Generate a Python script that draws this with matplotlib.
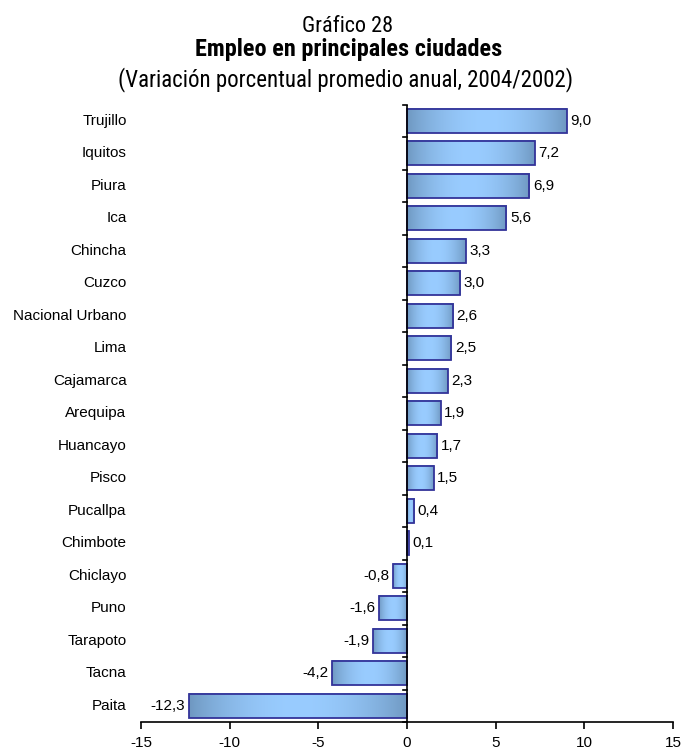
import numpy as np
import matplotlib
matplotlib.use("Agg")
import matplotlib.pyplot as plt

ciudades = ["Trujillo", "Iquitos", "Piura", "Ica", "Chincha", "Cuzco", "Nacional Urbano",
            "Lima", "Cajamarca", "Arequipa", "Huancayo", "Pisco", "Pucallpa", "Chimbote",
            "Chiclayo", "Puno", "Tarapoto", "Tacna", "Paita"]
variacion = [9.0, 7.2, 6.9, 5.6, 3.3, 3.0, 2.6, 2.5, 2.3, 1.9, 1.7, 1.5, 0.4, 0.1,
             -0.8, -1.6, -1.9, -4.2, -12.3]
xticks = [-15, -10, -5, 0, 5, 10, 15]

plt.rcParams["font.family"] = ["Liberation Sans", "DejaVu Sans"]
narrow = ["Roboto Condensed", "Liberation Sans", "DejaVu Sans"]

fig = plt.figure(figsize=(6.84, 7.53), dpi=100)
ax = fig.add_axes([0.206, 0.041, 0.778, 0.820])

# gradiente: oscuro en los extremos, claro al centro
dark = np.array([0.43, 0.59, 0.75])
light = np.array([0.60, 0.80, 1.00])
t = np.linspace(0, 1, 256)
w = np.sin(np.pi * t) ** 0.8
grad = dark[None, :] * (1 - w[:, None]) + light[None, :] * w[:, None]
grad = grad[None, :, :]

n = len(ciudades)
ypos = np.arange(n)[::-1]
h = 0.74
for y, v in zip(ypos, variacion):
    x0, x1 = min(0, v), max(0, v)
    ax.imshow(grad, extent=(x0, x1, y - h / 2, y + h / 2), aspect="auto",
              interpolation="bilinear", zorder=2)
ax.barh(ypos, variacion, height=h, facecolor="none", edgecolor="#333399",
        linewidth=1.3, zorder=3)

for y, v in zip(ypos, variacion):
    lbl = f"{v:.1f}".replace(".", ",")
    if v >= 0:
        ax.text(v + 0.2, y, lbl, ha="left", va="center", fontsize=11)
    else:
        ax.text(v - 0.2, y, lbl, ha="right", va="center", fontsize=11)

ax.set_xlim(-15, 15)
ax.set_ylim(-0.5, n - 0.5)
ax.set_xticks(xticks)
ax.set_xticklabels([str(x) for x in xticks], fontsize=11)
ax.set_yticks([])

for s in ["top", "right", "left"]:
    ax.spines[s].set_visible(False)
ax.spines["bottom"].set_linewidth(1.2)
ax.tick_params(axis="x", direction="out", length=5, width=1.2, pad=5)

# eje vertical en cero con marcas entre categorías
ax.axvline(0, color="black", linewidth=1.2, zorder=4)
for b in np.arange(-0.5, n, 1.0):
    ax.plot([-0.25, 0], [b, b], color="black", linewidth=1.2, zorder=4, clip_on=False)

for y, c in zip(ypos, ciudades):
    ax.text(-0.027, y, c, transform=ax.get_yaxis_transform(), ha="right",
            va="center", fontsize=11)

fig.text(0.508, 0.9575, "Gráfico 28", ha="center", va="baseline", fontsize=16, family=narrow)
fig.text(0.509, 0.9256, "Empleo en principales ciudades", ha="center", va="baseline",
         fontsize=17.5, fontweight="bold", family=narrow)
fig.text(0.505, 0.8858, "(Variación porcentual promedio anual, 2004/2002)", ha="center",
         va="baseline", fontsize=16.5, family=narrow)

fig.savefig("out.png", dpi=100)
